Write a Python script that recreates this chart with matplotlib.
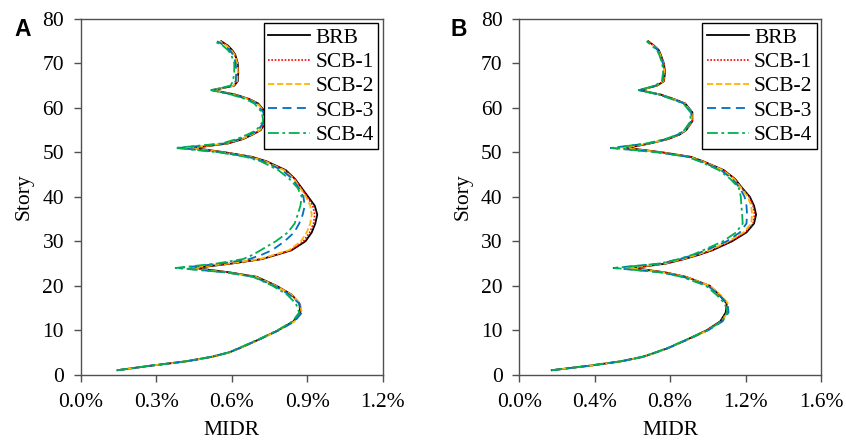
import matplotlib
matplotlib.use('Agg')
import matplotlib.pyplot as plt
from matplotlib.ticker import FuncFormatter

# Story levels where drift ratios were taken
stories = [1, 2, 3, 4, 5, 6, 8, 10, 12, 14, 16, 18, 20, 22, 23, 24, 25, 26, 27, 28,
           30, 32, 34, 36, 38, 40, 42, 44, 46, 48, 49, 50, 51, 52, 53, 54, 55, 57,
           59, 61, 62, 63, 64, 65, 66, 68, 70, 72, 73, 74, 75]

series_names = ['BRB', 'SCB-1', 'SCB-2', 'SCB-3', 'SCB-4']

# Panel A - MIDR (%)
a_brb = [0.146, 0.275, 0.420, 0.520, 0.590, 0.633, 0.712, 0.785, 0.845, 0.872, 0.869,
         0.838, 0.778, 0.700, 0.593, 0.454, 0.600, 0.720, 0.780, 0.838, 0.893, 0.918,
         0.932, 0.940, 0.930, 0.904, 0.878, 0.852, 0.815, 0.738, 0.680, 0.575, 0.447,
         0.585, 0.645, 0.683, 0.715, 0.739, 0.735, 0.705, 0.670, 0.615, 0.525, 0.610,
         0.624, 0.626, 0.624, 0.614, 0.602, 0.585, 0.558]
a_scb1 = [0.146, 0.275, 0.420, 0.520, 0.590, 0.633, 0.712, 0.786, 0.847, 0.874, 0.870,
          0.838, 0.777, 0.698, 0.588, 0.445, 0.595, 0.718, 0.778, 0.835, 0.885, 0.910,
          0.925, 0.930, 0.922, 0.900, 0.876, 0.850, 0.812, 0.735, 0.677, 0.570, 0.440,
          0.582, 0.642, 0.681, 0.713, 0.737, 0.733, 0.703, 0.668, 0.612, 0.524, 0.608,
          0.622, 0.625, 0.623, 0.612, 0.600, 0.583, 0.556]
a_scb2 = [0.146, 0.275, 0.420, 0.521, 0.591, 0.634, 0.714, 0.788, 0.850, 0.878, 0.872,
          0.837, 0.775, 0.695, 0.583, 0.430, 0.588, 0.712, 0.770, 0.828, 0.875, 0.898,
          0.912, 0.918, 0.912, 0.895, 0.872, 0.848, 0.808, 0.732, 0.674, 0.566, 0.430,
          0.578, 0.640, 0.679, 0.712, 0.736, 0.732, 0.702, 0.666, 0.610, 0.522, 0.607,
          0.621, 0.624, 0.622, 0.611, 0.598, 0.580, 0.552]
a_scb3 = [0.146, 0.274, 0.418, 0.518, 0.588, 0.631, 0.712, 0.788, 0.850, 0.879, 0.868,
          0.830, 0.768, 0.688, 0.578, 0.390, 0.560, 0.670, 0.720, 0.760, 0.810, 0.848,
          0.868, 0.882, 0.890, 0.885, 0.866, 0.842, 0.800, 0.725, 0.665, 0.560, 0.390,
          0.570, 0.632, 0.672, 0.705, 0.730, 0.726, 0.696, 0.660, 0.605, 0.520, 0.602,
          0.616, 0.618, 0.616, 0.605, 0.592, 0.572, 0.542]
a_scb4 = [0.146, 0.273, 0.416, 0.516, 0.586, 0.629, 0.708, 0.782, 0.842, 0.868, 0.855,
          0.820, 0.762, 0.685, 0.580, 0.377, 0.540, 0.645, 0.685, 0.715, 0.775, 0.823,
          0.850, 0.862, 0.873, 0.878, 0.862, 0.830, 0.785, 0.715, 0.655, 0.550, 0.375,
          0.560, 0.620, 0.662, 0.698, 0.725, 0.720, 0.690, 0.655, 0.598, 0.518, 0.595,
          0.605, 0.610, 0.610, 0.598, 0.585, 0.565, 0.530]

# Panel B - MIDR (%)
b_brb = [0.172, 0.370, 0.540, 0.655, 0.725, 0.790, 0.895, 0.994, 1.066, 1.095, 1.100,
         1.060, 1.010, 0.885, 0.775, 0.604, 0.780, 0.875, 0.955, 1.025, 1.128, 1.205,
         1.245, 1.256, 1.245, 1.223, 1.182, 1.145, 1.085, 0.975, 0.910, 0.760, 0.570,
         0.693, 0.790, 0.850, 0.885, 0.918, 0.918, 0.880, 0.820, 0.750, 0.640, 0.730,
         0.767, 0.773, 0.767, 0.750, 0.740, 0.715, 0.684]
b_scb1 = [0.172, 0.370, 0.540, 0.655, 0.726, 0.791, 0.897, 0.996, 1.068, 1.098, 1.102,
          1.062, 1.010, 0.884, 0.772, 0.600, 0.776, 0.872, 0.952, 1.020, 1.122, 1.198,
          1.240, 1.248, 1.240, 1.220, 1.180, 1.143, 1.083, 0.973, 0.907, 0.756, 0.565,
          0.690, 0.788, 0.848, 0.884, 0.917, 0.917, 0.879, 0.818, 0.748, 0.638, 0.728,
          0.766, 0.772, 0.766, 0.749, 0.739, 0.713, 0.682]
b_scb2 = [0.172, 0.370, 0.541, 0.656, 0.727, 0.793, 0.900, 1.000, 1.074, 1.105, 1.108,
          1.066, 1.012, 0.882, 0.768, 0.580, 0.770, 0.866, 0.945, 1.010, 1.110, 1.190,
          1.230, 1.235, 1.230, 1.212, 1.177, 1.140, 1.080, 0.970, 0.904, 0.750, 0.550,
          0.686, 0.785, 0.846, 0.882, 0.915, 0.915, 0.877, 0.816, 0.746, 0.636, 0.726,
          0.764, 0.770, 0.764, 0.747, 0.737, 0.711, 0.680]
b_scb3 = [0.172, 0.368, 0.538, 0.652, 0.723, 0.790, 0.898, 1.002, 1.078, 1.110, 1.104,
          1.058, 1.000, 0.870, 0.755, 0.500, 0.752, 0.850, 0.930, 0.990, 1.100, 1.170,
          1.205, 1.208, 1.205, 1.195, 1.170, 1.130, 1.070, 0.962, 0.896, 0.740, 0.485,
          0.680, 0.780, 0.842, 0.878, 0.912, 0.912, 0.874, 0.812, 0.742, 0.635, 0.722,
          0.760, 0.767, 0.762, 0.745, 0.734, 0.708, 0.678]
b_scb4 = [0.172, 0.366, 0.535, 0.650, 0.720, 0.786, 0.893, 0.998, 1.074, 1.105, 1.090,
          1.045, 0.990, 0.862, 0.750, 0.505, 0.745, 0.845, 0.920, 0.976, 1.080, 1.150,
          1.185, 1.182, 1.178, 1.175, 1.165, 1.120, 1.060, 0.955, 0.890, 0.735, 0.490,
          0.675, 0.775, 0.838, 0.875, 0.908, 0.908, 0.870, 0.808, 0.740, 0.633, 0.720,
          0.756, 0.763, 0.758, 0.742, 0.730, 0.703, 0.675]

panel_a = [a_brb, a_scb1, a_scb2, a_scb3, a_scb4]
panel_b = [b_brb, b_scb1, b_scb2, b_scb3, b_scb4]

a_xticks = [0.0, 0.3, 0.6, 0.9, 1.2]
b_xticks = [0.0, 0.4, 0.8, 1.2, 1.6]
y_ticks = [0, 10, 20, 30, 40, 50, 60, 70, 80]

line_styles = [
    dict(color='black', linestyle='-', linewidth=1.3),
    dict(color='#FF0000', linestyle=(0, (1, 1)), linewidth=1.2),
    dict(color='#FFB400', linestyle=(0, (3.5, 1.5)), linewidth=1.3),
    dict(color='#0070C0', linestyle=(0, (5, 3)), linewidth=1.3),
    dict(color='#00B050', linestyle=(0, (6, 2, 1.5, 2)), linewidth=1.3),
]

plt.rcParams['font.family'] = ['Liberation Serif', 'DejaVu Serif']
plt.rcParams['font.size'] = 15.5

fig = plt.figure(figsize=(8.46, 4.43), dpi=100)
ax_a = fig.add_axes([0.0954, 0.1542, 0.357, 0.8029])
ax_b = fig.add_axes([0.6138, 0.1542, 0.3566, 0.8029])


def pct_fmt(v, pos):
    return '{:.1f}%'.format(v)


def draw_panel(ax, values, xticks, letter, letter_x):
    for vals, name, style in zip(values, series_names, line_styles):
        ax.plot(vals, stories, label=name, **style)
    ax.set_xlim(xticks[0], xticks[-1])
    ax.set_ylim(0, 80)
    ax.set_xticks(xticks)
    ax.set_yticks(y_ticks)
    ax.xaxis.set_major_formatter(FuncFormatter(pct_fmt))
    ax.tick_params(direction='out', length=5, width=1, color='#505050',
                   labelsize=15.5)
    ax.tick_params(axis='x', pad=8)
    ax.tick_params(axis='y', pad=7)
    for sp in ax.spines.values():
        sp.set_color('#505050')
        sp.set_linewidth(1)
    ax.set_xlabel('MIDR', fontsize=15.5, labelpad=7)
    ax.set_ylabel('Story', fontsize=15.5, labelpad=6)
    leg = ax.legend(loc='upper right', fontsize=15.5, frameon=True, fancybox=False,
                    edgecolor='black', framealpha=1, handlelength=1.95,
                    handletextpad=0.25, labelspacing=0.2, borderpad=0.2,
                    borderaxespad=0.2)
    leg.get_frame().set_linewidth(1)
    fig.text(letter_x, 1 - 17.5 / 443, letter, fontsize=16.5, fontweight='bold',
             family='Liberation Sans', va='top', ha='left')


draw_panel(ax_a, panel_a, a_xticks, 'A', 14 / 846)
draw_panel(ax_b, panel_b, b_xticks, 'B', 450 / 846)

fig.savefig('out.png', dpi=100)
